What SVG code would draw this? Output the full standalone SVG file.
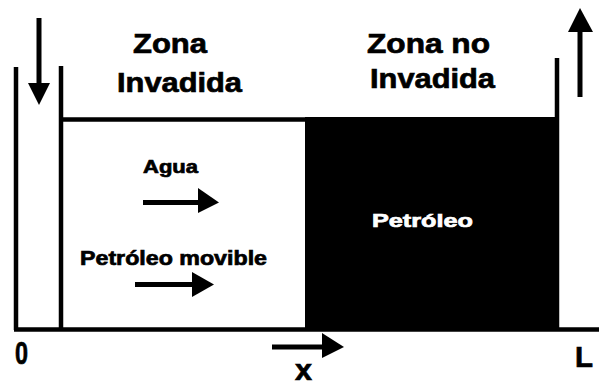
<svg xmlns="http://www.w3.org/2000/svg" width="599" height="385" viewBox="0 0 599 385">
<style>
.t{font-family:"Liberation Sans",Arial,sans-serif;font-weight:bold;fill:#000;stroke:#000;stroke-width:0.7}
.w{fill:#fff;stroke:#fff}
.ln{stroke:#000;stroke-width:4.5;fill:none}
.ar{stroke:#000;stroke-width:5;fill:none}
.hd{fill:#000}
</style>
<rect width="599" height="385" fill="#fff"/>
<g id="reservoir">
<line class="ln" x1="16" y1="67" x2="16" y2="330"/>
<line class="ln" x1="61" y1="66" x2="61" y2="330"/>
<line class="ln" x1="61" y1="119.5" x2="307" y2="119.5"/>
<rect id="oil-zone" x="305" y="117" width="254" height="213" fill="#000"/>
<line class="ln" x1="557" y1="58" x2="557" y2="330"/>
<line class="ln" x1="14" y1="329.5" x2="599" y2="329.5"/>
</g>
<g id="labels">
<text class="t" x="133" y="53" font-size="28" textLength="74" lengthAdjust="spacingAndGlyphs">Zona</text>
<text class="t" x="117" y="92" font-size="28" textLength="125" lengthAdjust="spacingAndGlyphs">Invadida</text>
<text class="t" x="367" y="53" font-size="28" textLength="123" lengthAdjust="spacingAndGlyphs">Zona no</text>
<text class="t" x="370" y="88" font-size="28" textLength="125" lengthAdjust="spacingAndGlyphs">Invadida</text>
<text class="t" x="143" y="173" font-size="19" textLength="55" lengthAdjust="spacingAndGlyphs">Agua</text>
<text class="t" x="80" y="265" font-size="20" textLength="187" lengthAdjust="spacingAndGlyphs">Petróleo movible</text>
<text class="t w" x="372" y="227" font-size="19" textLength="101" lengthAdjust="spacingAndGlyphs">Petróleo</text>
<text class="t" x="15" y="364" font-size="32" textLength="13" lengthAdjust="spacingAndGlyphs">0</text>
<text class="t" x="295" y="380" font-size="30" textLength="17" lengthAdjust="spacingAndGlyphs">x</text>
<text class="t" x="575" y="367" font-size="30" textLength="18" lengthAdjust="spacingAndGlyphs">L</text>
</g>
<g id="connectors">
<line class="ar" x1="39" y1="18" x2="39" y2="86"/>
<polygon class="hd" points="28,83 50,83 39,105"/>
<line class="ar" x1="580" y1="97" x2="580" y2="30"/>
<polygon class="hd" points="568,32 593,32 580,8"/>
<line class="ar" x1="143" y1="202.5" x2="201" y2="202.5"/>
<polygon class="hd" points="198,188 198,213 219,202.5"/>
<line class="ar" x1="135" y1="284.5" x2="195" y2="284.5"/>
<polygon class="hd" points="192,272 192,297 214,284.5"/>
<line class="ar" x1="272" y1="347" x2="325" y2="347"/>
<polygon class="hd" points="322,333 322,358 344,347"/>
</g>
</svg>
